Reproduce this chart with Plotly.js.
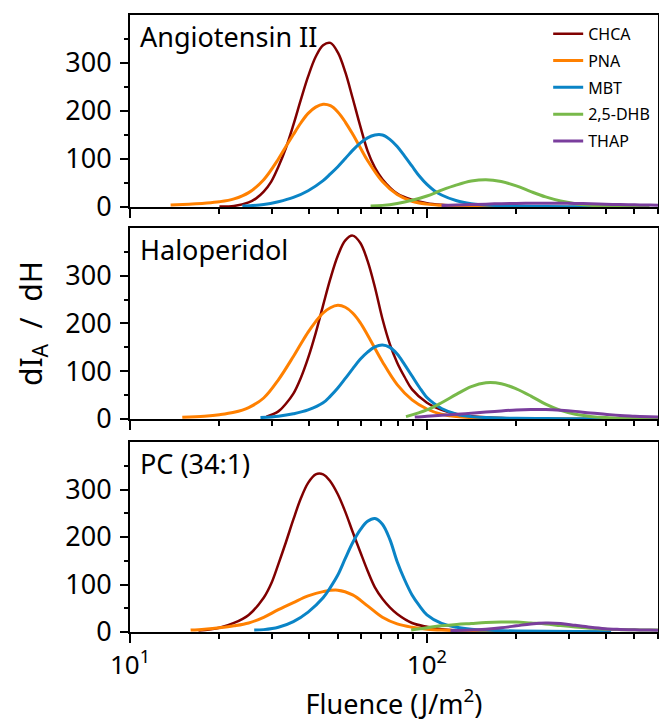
<!DOCTYPE html>
<html>
<head>
<meta charset="utf-8">
<script src="https://cdn.plot.ly/plotly-3.0.1.min.js"></script>
<style>html,body{margin:0;padding:0;background:#fff;}#chart{width:659px;height:722px;}</style>
</head>
<body>
<div id="chart"></div>
<script>
// ---- Data ----
const seriesNames = ['CHCA', 'PNA', 'MBT', '2,5-DHB', 'THAP'];
const panelNames = ['Angiotensin II', 'Haloperidol', 'PC (34:1)'];
const xTickVals = [10, 100];
const xTickText = ['10<sup>1</sup>', '10<sup>2</sup>'];
const xMinorVals = [20, 30, 40, 50, 60, 70, 80, 90, 200, 300, 400, 500, 600];
const yTickVals = [0, 100, 200, 300];
const yMinorVals = [50, 150, 250, 350];

// Panel 1: Angiotensin II
const chcaX1 = [20, 22.4, 25.1, 26.6, 28.2, 29.9, 31.6, 33.5, 35.5, 37.6, 39.8, 42.2, 44.7, 47.3, 50.1, 53.1, 56.2, 59.6, 63.1, 66.8, 70.8, 79.4, 89.1, 100, 112, 126, 141, 158, 200, 251];
const chcaY1 = [1, 2.2, 9.5, 18, 32, 53, 84, 123, 171, 223, 272, 313, 337, 342, 322, 281, 227, 169, 117, 82, 58, 28, 15, 8, 4.5, 2.5, 1.5, 1, 0.5, 0.3];
const pnaX1 = [13.7, 15.8, 17.8, 20, 22.4, 25.1, 28.2, 31.6, 33.5, 35.5, 37.6, 39.8, 42.2, 44.7, 47.3, 50.1, 53.1, 56.2, 59.6, 63.1, 70.8, 79.4, 89.1, 100, 112, 126, 158, 200, 251, 316, 403];
const pnaY1 = [4, 6, 8, 11, 17, 30, 57, 100, 126, 151, 175, 195, 208, 214, 211, 198, 177, 152, 124, 97, 53, 26, 12, 6, 3.5, 2, 1, 0.5, 0.3, 0.2, 0.1];
const mbtX1 = [23.9, 28.2, 31.6, 35.5, 39.8, 44.7, 47.3, 50.1, 53.1, 56.2, 59.6, 63.1, 66.8, 70.8, 75.0, 79.4, 84.1, 89.1, 94.4, 100, 105.9, 112, 126, 141, 158, 178, 200, 251, 316, 398];
const mbtY1 = [2, 5, 11, 20, 34, 55, 69, 84, 101, 118, 133, 144, 150, 150, 141, 126, 106, 85, 64, 47, 34, 25, 13, 7, 4, 3, 2, 1, 0.5, 0.3];
const dhbX1 = [64.6, 70.8, 79.4, 89.1, 100, 112, 126, 141, 158, 178, 200, 224, 251, 282, 316, 355, 398, 447, 501, 562];
const dhbY1 = [2, 3.4, 7.5, 14, 23, 35, 46, 54, 57, 53, 44, 32, 21, 12.5, 7, 3.5, 2, 1, 0.6, 0.3];
const thapX1 = [112, 126, 141, 158, 178, 200, 224, 251, 282, 316, 355, 398, 447, 501, 562, 600];
const thapY1 = [3, 4, 5, 6, 7, 7.5, 8, 8, 8, 7.5, 7, 6, 5, 4.5, 4, 3.5];

// Panel 2: Haloperidol
const chcaX2 = [28.8, 31.6, 33.5, 35.5, 37.6, 39.8, 42.2, 44.7, 47.3, 50.1, 53.1, 56.2, 59.6, 63.1, 66.8, 70.8, 75.0, 79.4, 84.1, 89.1, 100, 112, 126, 141, 158, 178, 200, 251];
const chcaY2 = [5, 16, 32, 53, 86, 128, 180, 238, 294, 342, 374, 384, 369, 331, 276, 210, 157, 118, 88, 62, 34, 19, 10, 6, 3.5, 2, 1.5, 0.5];
const pnaX2 = [15, 17.8, 20, 22.4, 25.1, 28.2, 31.6, 35.5, 37.6, 39.8, 42.2, 44.7, 47.3, 50.1, 53.1, 56.2, 59.6, 63.1, 70.8, 79.4, 89.1, 100, 112, 126, 141, 158, 200, 251, 398];
const pnaY2 = [3.5, 6, 9, 14, 24, 44, 82, 131, 157, 182, 204, 222, 233, 238, 234, 222, 202, 176, 120, 72, 40, 21, 10, 5, 3, 2, 1, 0.5, 0.2];
const mbtX2 = [27.5, 31.6, 35.5, 39.8, 44.7, 47.3, 50.1, 53.1, 56.2, 59.6, 63.1, 66.8, 70.8, 75.0, 79.4, 84.1, 89.1, 94.4, 100, 105.9, 112, 126, 141, 158, 178, 200, 251, 316, 398];
const mbtY2 = [3, 6, 11, 19, 34, 48, 65, 85, 105, 125, 140, 151, 155, 150, 136, 114, 90, 66, 45, 32, 22, 10, 5, 3, 2, 1.5, 1, 0.5, 0.3];
const dhbX2 = [85, 100, 112, 126, 141, 158, 178, 200, 224, 251, 282, 316, 355, 398, 447, 501, 562, 600];
const dhbY2 = [5, 19, 34, 52, 68, 76, 74, 63, 48, 31, 18, 10, 5.5, 3, 2, 1, 0.6, 0.5];
const thapX2 = [91, 100, 112, 126, 141, 158, 178, 200, 224, 251, 282, 316, 355, 398, 447, 501, 562, 600];
const thapY2 = [4, 6, 8, 10, 12, 14.5, 17, 19, 20, 20, 18.5, 16, 12.5, 10, 7.5, 6, 4.5, 4];

// Panel 3: PC (34:1)
const chcaX3 = [17, 20, 22.4, 25.1, 28.2, 29.9, 31.6, 33.5, 35.5, 37.6, 39.8, 42.2, 44.7, 47.3, 50.1, 53.1, 56.2, 59.6, 63.1, 66.8, 70.8, 75.0, 79.4, 89.1, 100, 112, 126, 141, 158, 200];
const chcaY3 = [3, 9, 19, 36, 72, 102, 143, 189, 237, 281, 314, 332, 332, 317, 290, 253, 211, 169, 129, 94, 70, 52, 38, 19, 11, 6, 3.5, 2.2, 1.5, 0.5];
const pnaX3 = [16, 17.8, 20, 22.4, 25.1, 28.2, 31.6, 35.5, 39.8, 44.7, 50.1, 56.2, 63.1, 70.8, 79.4, 89.1, 100, 112, 126, 158, 251, 398];
const pnaY3 = [4, 6, 9, 13, 19, 31, 47, 62, 76, 85, 88, 78, 55, 31, 17, 10, 6, 4, 3, 1.5, 0.5, 0.2];
const mbtX3 = [26.2, 28.2, 31.6, 35.5, 39.8, 44.7, 47.3, 50.1, 53.1, 56.2, 59.6, 63.1, 66.8, 70.8, 75.0, 79.4, 84.1, 89.1, 94.4, 100, 112, 126, 141, 158, 200, 316, 417];
const mbtY3 = [4, 5, 10, 22, 42, 72, 94, 120, 155, 188, 215, 233, 239, 227, 195, 148, 110, 78, 55, 36, 18, 10, 6, 4, 2, 1, 0.5];
const dhbX3 = [88.5, 100, 112, 126, 141, 158, 178, 200, 224, 251, 282, 316, 355, 398, 447, 501, 562, 600];
const dhbY3 = [4, 9, 13, 16, 18, 20, 21, 21, 19, 17, 13.5, 10.5, 8, 6, 5, 4.5, 4, 4];
const thapX3 = [120, 141, 158, 178, 200, 224, 251, 282, 316, 355, 398, 447, 501, 562, 600];
const thapY3 = [3, 4, 6, 9, 13, 17, 19, 18, 14, 10, 7, 5.5, 4.5, 4, 3.5];

// ---- Styling ----
const FONT = '"Noto Sans", "Open Sans", "DejaVu Sans", sans-serif';
const colors = ['#800000', '#ff8000', '#0a84c6', '#78b94a', '#7a3e9d'];
const widths = [2.5, 3, 3, 3, 3];

const panels = [
  {xs: [chcaX1, pnaX1, mbtX1, dhbX1, thapX1], ys: [chcaY1, pnaY1, mbtY1, dhbY1, thapY1]},
  {xs: [chcaX2, pnaX2, mbtX2, dhbX2, thapX2], ys: [chcaY2, pnaY2, mbtY2, dhbY2, thapY2]},
  {xs: [chcaX3, pnaX3, mbtX3, dhbX3, thapX3], ys: [chcaY3, pnaY3, mbtY3, dhbY3, thapY3]}
];

const traces = [];
panels.forEach((p, pi) => {
  const suffix = pi === 0 ? '' : String(pi + 1);
  seriesNames.forEach((name, si) => {
    traces.push({
      type: 'scatter', mode: 'lines',
      x: p.xs[si], y: p.ys[si],
      name: name, legendgroup: name,
      showlegend: pi === 0,
      xaxis: 'x' + suffix, yaxis: 'y' + suffix,
      line: {color: colors[si], width: widths[si], shape: 'spline', smoothing: 1},
      hoverinfo: 'x+y+name'
    });
  });
});

function xAxis(anchor, showLabels) {
  return {
    type: 'log', range: [1, Math.log10(600)], anchor: anchor,
    showline: true, mirror: true, linewidth: 2, linecolor: '#000',
    showgrid: false, zeroline: false,
    ticks: 'outside', ticklen: 9, tickwidth: 2, tickcolor: '#000',
    tickmode: 'array', tickvals: xTickVals, ticktext: xTickText,
    showticklabels: showLabels,
    tickfont: {family: FONT, size: 26, color: '#000'},
    minor: {tickmode: 'array', tickvals: xMinorVals, ticks: 'outside', ticklen: 5, tickwidth: 2, tickcolor: '#000', showgrid: false}
  };
}
function yAxis(anchor, domain) {
  return {
    range: [0, 400], domain: domain, anchor: anchor,
    showline: true, mirror: true, linewidth: 2, linecolor: '#000',
    showgrid: false, zeroline: false,
    ticks: 'outside', ticklen: 8, tickwidth: 2, tickcolor: '#000',
    tickmode: 'array', tickvals: yTickVals, ticklabelstandoff: 3,
    tickfont: {family: FONT, size: 27, color: '#000'},
    minor: {tickmode: 'array', tickvals: yMinorVals, ticks: 'outside', ticklen: 4, tickwidth: 2, tickcolor: '#000', showgrid: false}
  };
}

const yDomains = [[0.6888, 1], [0.3452, 0.6548], [0, 0.3079]];

const layout = {
  width: 659, height: 722,
  margin: {l: 130, r: 1, t: 15, b: 90, autoexpand: false},
  paper_bgcolor: '#fff', plot_bgcolor: '#fff',
  font: {family: FONT, color: '#000'},
  showlegend: true,
  legend: {
    x: 0.792, y: 0.997, xanchor: 'left', yanchor: 'top',
    bgcolor: 'rgba(0,0,0,0)', borderwidth: 0,
    font: {family: FONT, size: 16, color: '#000'},
    tracegroupgap: 3
  },
  xaxis: xAxis('y', false),
  xaxis2: xAxis('y2', false),
  xaxis3: Object.assign(xAxis('y3', true), {
    title: {text: 'Fluence (J/m<sup>2</sup>)', font: {family: FONT, size: 27, color: '#000'}, standoff: 11}
  }),
  yaxis: yAxis('x', yDomains[0]),
  yaxis2: Object.assign(yAxis('x2', yDomains[1]), {
    title: {text: 'dI<sub>A</sub>\u00a0\u00a0/\u00a0\u00a0dH', font: {family: FONT, size: 30, color: '#000'}, standoff: 14}
  }),
  yaxis3: yAxis('x3', yDomains[2]),
  annotations: panelNames.map((t, i) => ({
    text: t, showarrow: false,
    xref: 'x' + (i === 0 ? '' : i + 1) + ' domain',
    yref: 'y' + (i === 0 ? '' : i + 1) + ' domain',
    x: 0.015, y: 0.995, xanchor: 'left', yanchor: 'top',
    font: {family: FONT, size: 27, color: '#000'}
  }))
};

Plotly.newPlot('chart', traces, layout, {displayModeBar: false, staticPlot: true});
</script>
</body>
</html>
